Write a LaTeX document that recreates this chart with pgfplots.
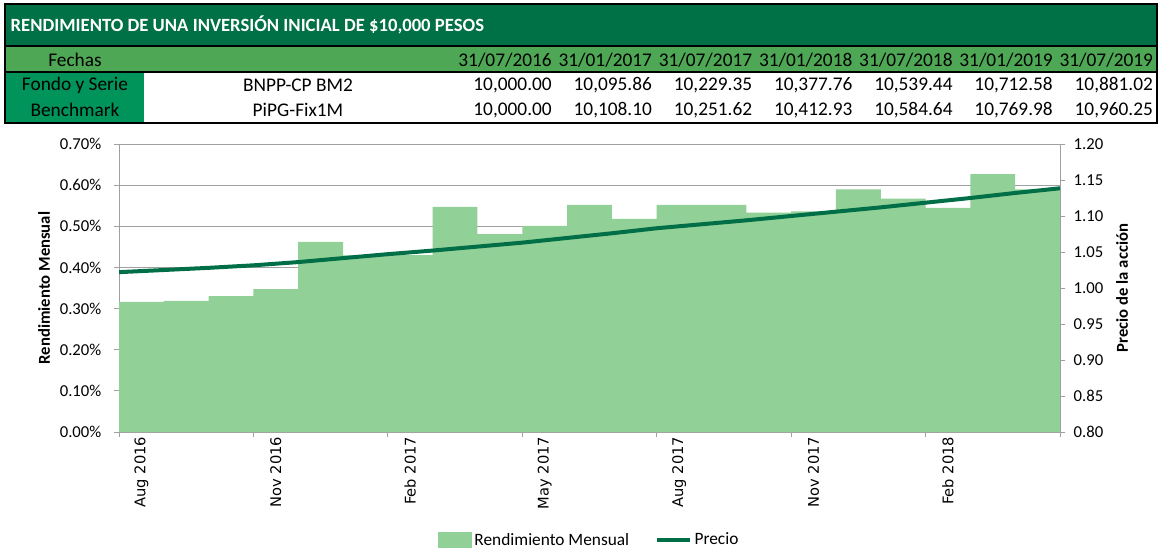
\documentclass[border=0pt]{standalone}
\usepackage{fontspec}
\setmainfont{Carlito}
\newfontfamily\dejavu{DejaVu Sans}
\usepackage{pgfplots}
\usepackage{pgfplotstable}
\pgfplotsset{compat=1.18}

\definecolor{titgreen}{RGB}{0,112,70}
\definecolor{rowgreen}{RGB}{78,167,84}
\definecolor{cellgreen}{RGB}{0,147,90}
\definecolor{barc}{RGB}{145,208,150}
\definecolor{linec}{RGB}{0,110,70}
\definecolor{axgray}{RGB}{160,160,160}

% monthly return (%), one bar per month, Aug 2016 .. Apr 2018 (last row closes the interval)
\pgfplotstableread{
x r
0 0.316
1 0.319
2 0.330
3 0.347
4 0.462
5 0.429
6 0.430
7 0.547
8 0.481
9 0.501
10 0.552
11 0.518
12 0.552
13 0.552
14 0.533
15 0.536
16 0.590
17 0.567
18 0.545
19 0.627
20 0.590
21 0.590
}\rend

% share price
\pgfplotstableread{
x p
0 1.022
1 1.025
2 1.028
3 1.0315
4 1.036
5 1.0415
6 1.047
7 1.052
8 1.0575
9 1.063
10 1.0695
11 1.076
12 1.083
13 1.0885
14 1.094
15 1.100
16 1.106
17 1.112
18 1.1185
19 1.125
20 1.132
21 1.1385
}\precio

\begin{document}
\begin{tikzpicture}[x=0.75pt,y=-0.75pt]
\useasboundingbox (0,0) rectangle (1159,548);

% ---- table ----
\fill[titgreen] (5,4) rectangle (1157,46);
\fill[rowgreen] (5,47) rectangle (1157,72);
\fill[cellgreen] (5,73) rectangle (144,122);
\draw[line width=1.5pt] (5,4) rectangle (1157,123);
\draw[line width=1.5pt] (5,46.5) -- (1157,46.5);
\draw[line width=1.5pt] (5,72.5) -- (1157,72.5);

\node[anchor=west, text=white, font=\bfseries\fontsize{14}{16}\selectfont] at (6,25) {RENDIMIENTO DE UNA INVERSIÓN INICIAL DE \$10,000 PESOS};

\begin{scope}[every node/.style={font=\fontsize{14.5}{16}\selectfont, inner sep=0pt}]
\node at (75,60) {Fechas};
\node at (75,85) {Fondo y Serie};
\node at (75,110) {Benchmark};
\node at (298,85) {BNPP-CP BM2};
\node at (298,110) {PiPG-Fix1M};
\foreach \d [count=\i from 0] in {31/07/2016,31/01/2017,31/07/2017,31/01/2018,31/07/2018,31/01/2019,31/07/2019}
  \node[anchor=east] at (552+100.2*\i,60) {\d};
\node[anchor=east] at (552,85) {10,000.00};
\node[anchor=east] at (652.2,85) {10,095.86};
\node[anchor=east] at (752.4,85) {10,229.35};
\node[anchor=east] at (852.6,85) {10,377.76};
\node[anchor=east] at (952.8,85) {10,539.44};
\node[anchor=east] at (1053,85) {10,712.58};
\node[anchor=east] at (1153.2,85) {10,881.02};
\node[anchor=east] at (552,110) {10,000.00};
\node[anchor=east] at (652.2,110) {10,108.10};
\node[anchor=east] at (752.4,110) {10,251.62};
\node[anchor=east] at (852.6,110) {10,412.93};
\node[anchor=east] at (952.8,110) {10,584.64};
\node[anchor=east] at (1053,110) {10,769.98};
\node[anchor=east] at (1153.2,110) {10,960.25};
\end{scope}

% ---- chart ----
\pgfplotsset{
  basechart/.style={
    at={(89.25pt,-324pt)}, anchor=south west,
    scale only axis, width=705.75pt, height=216pt,
    xmin=0, xmax=21,
    axis line style={-, axgray, line width=0.75pt},
    tick style={axgray, line width=0.75pt},
    tick align=outside, major tick length=3.75pt,
    /pgf/number format/assume math mode=true,
    ticklabel style={font=\fontsize{12.5}{14}\selectfont},
    label style={font=\bfseries\fontsize{12.5}{14}\selectfont},
  }
}
\begin{axis}[basechart,
  ymin=0, ymax=0.7,
  axis y line*=left, axis x line*=bottom,
  ytick={0,0.1,0.2,0.3,0.4,0.5,0.6,0.7},
  yticklabel={\pgfmathprintnumber[fixed,fixed zerofill,precision=2]{\tick}\%},
  yticklabel style={xshift=-6pt},
  ymajorgrids, grid style={axgray, line width=0.75pt},
  xtick={0,3,6,9,12,15,18,21}, xticklabels={},
  extra x ticks={0.5,3.5,6.5,9.5,12.5,15.5,18.5},
  extra x tick labels={Aug 2016,Nov 2016,Feb 2017,May 2017,Aug 2017,Nov 2017,Feb 2018},
  extra x tick style={major tick length=0pt,
    tick label style={font=\dejavu\fontsize{11}{13}\selectfont, rotate=90, anchor=east}},
  ylabel={Rendimiento Mensual},
  ylabel style={at={(axis description cs:-0.0797,0.5)}, anchor=center},
]
\addplot[ybar interval, fill=barc, draw=none] table[x=x,y=r]{\rend};
\end{axis}

\begin{axis}[basechart,
  ymin=0.8, ymax=1.2,
  axis y line*=right, axis x line=none,
  ytick={0.8,0.85,0.9,0.95,1,1.05,1.1,1.15,1.2},
  yticklabel={\pgfmathprintnumber[fixed,fixed zerofill,precision=2]{\tick}},
  yticklabel style={xshift=3pt},
  ylabel={Precio de la acción},
  ylabel style={at={(axis description cs:1.0659,0.5)}, anchor=center},
  legend columns=2,
  legend style={at={(axis description cs:0.5,-0.375)}, anchor=center, draw=none,
    font=\fontsize{13}{15}\selectfont,
    /tikz/every even column/.append style={column sep=17pt}},
]
\addlegendimage{legend image code/.code={\fill[barc] (0pt,-5.5pt) rectangle (25pt,5.5pt);}}
\addlegendentry{Rendimiento Mensual}
\addplot[linec, line width=3pt,
  legend image code/.code={\draw[linec, line width=3pt] (0pt,0pt) -- (25pt,0pt);}]
  table[x=x,y=p]{\precio};
\addlegendentry{Precio}
\end{axis}
\end{tikzpicture}
\end{document}
